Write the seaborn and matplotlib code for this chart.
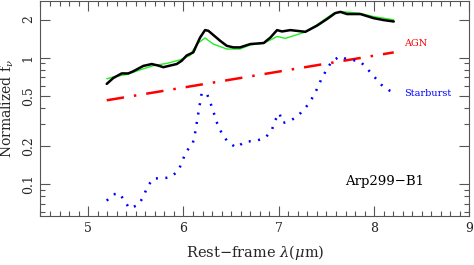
import numpy as np
import matplotlib
matplotlib.use("Agg")
import matplotlib.pyplot as plt
import seaborn as sns
from matplotlib.ticker import LogLocator, FixedLocator, FixedFormatter, MultipleLocator, NullFormatter

# observed spectrum (black)
obs_x = [5.195, 5.264, 5.352, 5.421, 5.474, 5.579, 5.667, 5.736, 5.789, 5.859, 5.929,
         5.982, 6.034, 6.103, 6.174, 6.226, 6.261, 6.384, 6.454, 6.523, 6.593, 6.701,
         6.842, 6.911, 6.982, 7.034, 7.121, 7.279, 7.401, 7.506, 7.593, 7.646, 7.716,
         7.856, 7.996, 8.101, 8.206]
obs_y = [0.62, 0.69, 0.75, 0.75, 0.78, 0.86, 0.89, 0.865, 0.84, 0.865, 0.89,
         0.945, 1.04, 1.10, 1.44, 1.65, 1.63, 1.36, 1.24, 1.205, 1.205, 1.28,
         1.305, 1.44, 1.65, 1.61, 1.65, 1.60, 1.79, 2.02, 2.25, 2.30, 2.21,
         2.21, 2.05, 1.98, 1.93]

# model fit (green)
fit_x = [5.195, 5.282, 5.405, 5.544, 5.684, 5.824, 5.964, 6.069, 6.139, 6.226, 6.313,
         6.454, 6.593, 6.701, 6.842, 6.929, 6.982, 7.069, 7.262, 7.401, 7.577, 7.682,
         7.838, 7.996, 8.206]
fit_y = [0.68, 0.71, 0.735, 0.80, 0.865, 0.90, 0.96, 1.04, 1.28, 1.43, 1.28,
         1.17, 1.17, 1.26, 1.30, 1.40, 1.47, 1.42, 1.58, 1.82, 2.25, 2.30,
         2.25, 2.11, 1.99]

# AGN component (red)
agn_x = [5.195, 5.7, 6.2, 6.7, 7.2, 7.7, 8.206]
agn_y = [0.46, 0.532, 0.615, 0.711, 0.822, 0.95, 1.10]

# starburst component (blue)
sb_x = [5.195, 5.264, 5.327, 5.376, 5.432, 5.526, 5.579, 5.621, 5.684, 5.772, 5.859,
        5.946, 6.027, 6.097, 6.121, 6.156, 6.191, 6.244, 6.286, 6.321, 6.355, 6.401,
        6.460, 6.551, 6.646, 6.751, 6.856, 6.926, 6.961, 7.006, 7.041, 7.118, 7.205,
        7.286, 7.346, 7.398, 7.443, 7.496, 7.556, 7.643, 7.706, 7.748, 7.853, 7.929,
        7.999, 8.076, 8.16, 8.206]
sb_y = [0.074, 0.083, 0.0845, 0.075, 0.0644, 0.0684, 0.0794, 0.0953, 0.111, 0.111, 0.113,
        0.127, 0.18, 0.209, 0.251, 0.364, 0.523, 0.523, 0.432, 0.36, 0.30, 0.253,
        0.218, 0.1945, 0.217, 0.219, 0.2315, 0.266, 0.319, 0.364, 0.304, 0.315, 0.349,
        0.406, 0.473, 0.56, 0.667, 0.79, 0.935, 1.024, 0.977, 0.964, 0.935, 0.815,
        0.709, 0.61, 0.55, 0.53]

ytick_vals = [0.1, 0.2, 0.5, 1, 2]
ytick_labels = ["0.1", "0.2", "0.5", "1", "2"]

sns.set_theme(style="ticks")
plt.rcParams["font.family"] = ["DejaVu Serif"]
plt.rcParams["mathtext.fontset"] = "dejavuserif"

fig = plt.figure(figsize=(4.74, 2.65), dpi=100)
ax = fig.add_axes([0.0854, 0.185, 0.905, 0.811])

sns.lineplot(x=fit_x, y=fit_y, color="#22ee22", lw=1.0, ax=ax)
sns.lineplot(x=obs_x, y=obs_y, color="black", lw=1.8, ax=ax)
sns.lineplot(x=agn_x, y=agn_y, color="red", lw=1.8, ax=ax, linestyle=(0, (7, 4, 1, 4)))
sns.lineplot(x=sb_x, y=sb_y, color="blue", lw=1.8, ax=ax, linestyle=(0, (0.8, 3.0)))

ax.set_yscale("log")
ax.set_xlim(4.5, 9)
ax.set_ylim(0.056, 2.8)

ax.xaxis.set_major_locator(MultipleLocator(1))
ax.xaxis.set_minor_locator(MultipleLocator(0.1))
ax.yaxis.set_major_locator(FixedLocator(ytick_vals))
ax.yaxis.set_major_formatter(FixedFormatter(ytick_labels))
ax.yaxis.set_minor_locator(LogLocator(base=10, subs=np.arange(2, 10) * 1.0))
ax.yaxis.set_minor_formatter(NullFormatter())

ax.tick_params(which="both", direction="in", top=True, right=True, color="#555555", width=0.8)
ax.tick_params(which="major", length=7, labelsize=9, pad=4)
ax.tick_params(which="minor", length=3.5)
for lab in ax.get_yticklabels():
    lab.set_rotation(90)
    lab.set_va("center")
for s in ax.spines.values():
    s.set_color("#555555")
    s.set_linewidth(0.8)

ax.set_xlabel(r"Rest$-$frame $\lambda(\mu$m)", fontsize=10.5, labelpad=6)
ax.set_ylabel(r"Normalized f$_\nu$", fontsize=10, labelpad=4)

ax.text(8.31, 1.29, "AGN", color="red", fontsize=7, va="center")
ax.text(8.31, 0.52, "Starburst", color="blue", fontsize=7, va="center")
ax.text(7.7, 0.105, "Arp299\u2212B1", color="black", fontsize=9.5, va="center")

fig.savefig("out.png", dpi=100)
